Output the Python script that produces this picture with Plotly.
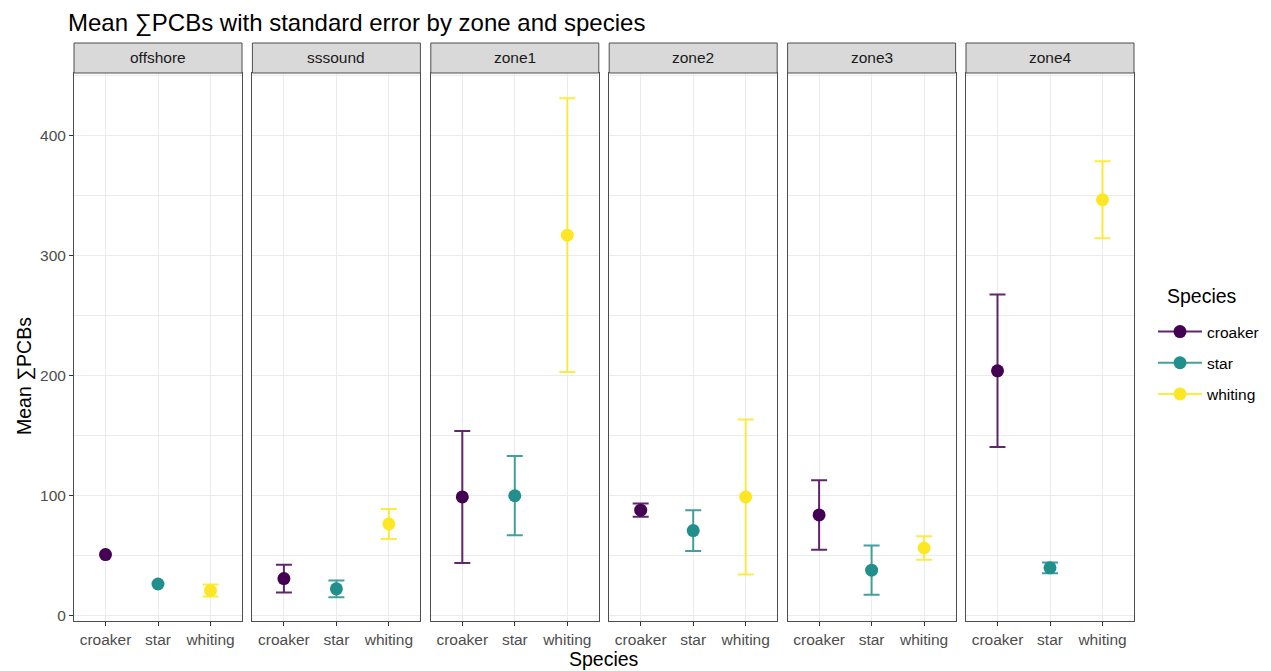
import plotly.graph_objects as go

zones = ["offshore", "sssound", "zone1", "zone2", "zone3", "zone4"]
species = ["croaker", "star", "whiting"]

croaker_mean = [51, 31, 99, 88, 84, 204]
croaker_se = [None, 11.5, 55, 5.5, 29, 63.5]
star_mean = [26.5, 22.5, 100, 71, 38, 40]
star_se = [None, 7, 33, 17, 20.5, 4.5]
whiting_mean = [21, 76.5, 317, 99, 56.5, 346.5]
whiting_se = [5, 12.5, 114, 64.5, 9.8, 32]

colors = {"croaker": "#440154", "star": "#21908C", "whiting": "#FDE725"}
bar_colors = {"croaker": "rgba(68,1,84,0.85)", "star": "rgba(33,144,140,0.85)", "whiting": "rgba(253,231,37,0.85)"}
means = {"croaker": croaker_mean, "star": star_mean, "whiting": whiting_mean}
ses = {"croaker": croaker_se, "star": star_se, "whiting": whiting_se}

# page body has an 8px margin; positions below are in screenshot pixels minus OFF
OFF = 8
W, H = 1271 - OFF, 671 - OFF
ML, MT = 74 - OFF, 73 - OFF
MR = W - (1134 - OFF)
MB = H - (621 - OFF)
PW = W - ML - MR
PH = H - MT - MB
panel_w = 168.0
gap = (PW - 6 * panel_w) / 5
strip_h = 30

FONT = "Liberation Sans, Arial, Helvetica, sans-serif"
TICK_FS = 15.5

fig = go.Figure()
layout = dict(
    width=W, height=H,
    margin=dict(l=ML, r=MR, t=MT, b=MB, autoexpand=False),
    paper_bgcolor="white", plot_bgcolor="white",
    font=dict(family=FONT, color="#000000"),
    showlegend=True,
)

shapes = []
annotations = []
for i, z in enumerate(zones):
    x0 = i * (panel_w + gap) / PW
    x1 = (i * (panel_w + gap) + panel_w) / PW
    xa = "xaxis" if i == 0 else f"xaxis{i+1}"
    ya = "yaxis" if i == 0 else f"yaxis{i+1}"
    xref = "x" if i == 0 else f"x{i+1}"
    yref = "y" if i == 0 else f"y{i+1}"
    layout[xa] = dict(
        domain=[x0, x1], anchor=yref, type="category",
        categoryorder="array", categoryarray=species,
        range=[-0.6, 2.6], showgrid=True, gridcolor="#EBEBEB", gridwidth=1.1,
        showline=True, mirror=True, linecolor="#4D4D4D", linewidth=1,
        ticks="outside", ticklen=4, tickcolor="#333333", tickwidth=1,
        tickfont=dict(size=TICK_FS, color="#4D4D4D", family=FONT),
        zeroline=False, fixedrange=True,
    )
    ydict = dict(
        domain=[0, 1], anchor=xref, range=[-4.3, 452],
        dtick=100, tick0=0, showgrid=True, gridcolor="#EBEBEB", gridwidth=1.1,
        minor=dict(dtick=50, tick0=0, showgrid=True, gridcolor="#EBEBEB", gridwidth=0.55),
        showline=True, mirror=True, linecolor="#4D4D4D", linewidth=1,
        zeroline=False, fixedrange=True,
    )
    if i == 0:
        ydict.update(ticks="outside", ticklen=4, tickcolor="#333333", tickwidth=1,
                     tickfont=dict(size=TICK_FS, color="#4D4D4D", family=FONT),
                     showticklabels=True)
    else:
        ydict.update(matches="y", showticklabels=False, ticks="")
    layout[ya] = ydict

    shapes.append(dict(type="rect", xref="paper", yref="paper",
                       x0=x0, x1=x1, y0=1.0, y1=1.0 + strip_h / PH,
                       fillcolor="#D9D9D9", line=dict(color="#4D4D4D", width=1),
                       layer="above"))
    annotations.append(dict(text=z, xref="paper", yref="paper",
                            x=(x0 + x1) / 2, y=1.0 + strip_h / PH / 2,
                            xanchor="center", yanchor="middle", showarrow=False,
                            font=dict(size=TICK_FS, color="#1A1A1A", family=FONT)))

    for sp in species:
        m = means[sp][i]
        s = ses[sp][i]
        err = dict(type="data", array=[s] if s is not None else [0],
                   visible=s is not None, color=bar_colors[sp], thickness=2, width=8)
        fig.add_trace(go.Scatter(
            x=[sp], y=[m], mode="markers", xaxis=xref, yaxis=yref,
            marker=dict(color=colors[sp], size=13, line=dict(width=0)),
            error_y=err, showlegend=False, hoverinfo="skip",
        ))

for sp in species:
    fig.add_trace(go.Scatter(
        x=[None], y=[None], mode="lines+markers", name=sp, legendgroup=sp,
        marker=dict(color=colors[sp], size=13),
        line=dict(color=bar_colors[sp], width=2),
        xaxis="x", yaxis="y", showlegend=True,
    ))

def py(px):
    # screenshot pixel y -> paper y
    return (H - MB - (px - OFF)) / PH

def px_(xx):
    return (xx - OFF - ML) / PW

annotations.append(dict(text="Species", xref="paper", yref="paper",
                        x=0.5, y=py(659), xanchor="center", yanchor="middle",
                        showarrow=False, font=dict(size=19.5, color="#000000", family=FONT)))
annotations.append(dict(text="Mean ∑PCBs", xref="paper", yref="paper",
                        x=px_(24), y=py(376), xanchor="center", yanchor="middle",
                        textangle=-90, showarrow=False,
                        font=dict(size=19.5, color="#000000", family=FONT)))
annotations.append(dict(text="Species", xref="paper", yref="paper",
                        x=px_(1165), y=py(296), xanchor="left", yanchor="middle",
                        showarrow=False, font=dict(size=19.5, color="#000000", family=FONT)))
annotations.append(dict(text="Mean ∑PCBs with standard error by zone and species",
                        xref="paper", yref="paper",
                        x=px_(66), y=py(23.5), xanchor="left", yanchor="middle",
                        showarrow=False, font=dict(size=24, color="#000000", family=FONT)))

layout["shapes"] = shapes
layout["annotations"] = annotations
layout["legend"] = dict(
    font=dict(size=TICK_FS, color="#000000", family=FONT),
    xref="container", yref="container",
    x=(1153 - OFF) / W, xanchor="left", y=1 - (363 - OFF) / H, yanchor="middle",
    tracegroupgap=8, itemwidth=44, bgcolor="rgba(0,0,0,0)",
)

fig.update_layout(**layout)
fig.write_html("out.html")
